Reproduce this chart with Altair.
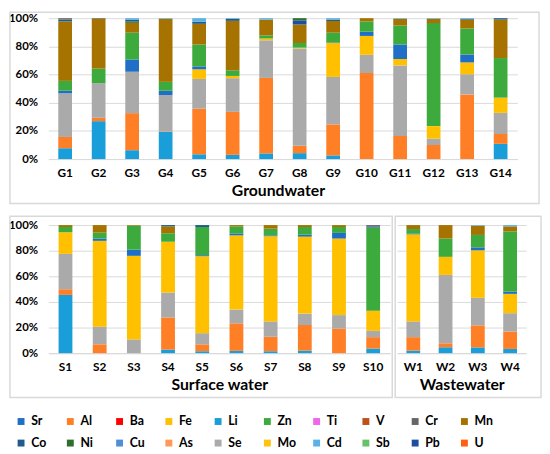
import altair as alt
import pandas as pd

ground = ["G1", "G2", "G3", "G4", "G5", "G6", "G7", "G8", "G9", "G10", "G11", "G12", "G13", "G14"]
surface = ["S1", "S2", "S3", "S4", "S5", "S6", "S7", "S8", "S9", "S10"]
waste = ["W1", "W2", "W3", "W4"]
samples = ground + surface + waste

legend_elements = ["Sr", "Al", "Ba", "Fe", "Li", "Zn", "Ti", "V", "Cr", "Mn",
                   "Co", "Ni", "Cu", "As", "Se", "Mo", "Cd", "Sb", "Pb", "U"]
legend_colors = ["#1F6FC6", "#FF7F27", "#FF0000", "#FFC000", "#1A9EDA", "#3DAA3D", "#EE66EE", "#C0501A", "#666666", "#A67300",
                 "#1F5C8C", "#2E6E2E", "#4F8FD9", "#FF9955", "#AAAAAA", "#FFC20E", "#5AB1E6", "#66C266", "#1C4FA0", "#FF6010"]

stack_order = ["Li", "Al", "Se", "Fe", "Sr", "Zn", "Mn", "Pb", "Ni", "Co", "Cd", "Cr"]

# percentage share, order: G1..G14, S1..S10, W1..W4
Li = [7.7, 26.9, 6.3, 19.4, 3.4, 3.0, 4.0, 4.2, 2.6, 0, 0, 0, 0, 10.8,
      45.5, 0, 0, 2.8, 1.5, 1.8, 1.5, 2.0, 0, 3.6,
      2.0, 4.6, 4.5, 3.3]
Al = [8.0, 2.4, 26.3, 0.3, 32.4, 30.5, 53.6, 5.2, 22.0, 61.1, 16.4, 10.0, 45.9, 7.0,
      4.4, 6.9, 0, 25.1, 5.4, 21.5, 11.3, 20.0, 19.2, 8.9,
      10.5, 3.1, 17.2, 13.6]
Se = [31.0, 24.6, 29.4, 25.7, 21.1, 23.9, 26.7, 69.1, 33.7, 12.9, 50.1, 4.5, 14.3, 15.0,
      27.6, 13.8, 10.7, 19.4, 8.7, 10.7, 12.0, 8.9, 10.5, 4.9,
      12.3, 53.4, 21.5, 14.3]
Fe = [0, 0, 0, 0, 6.8, 1.6, 1.3, 0.6, 24.1, 13.4, 4.5, 8.9, 8.4, 10.8,
      16.9, 67.0, 65.3, 39.7, 60.1, 58.0, 66.5, 60.1, 59.8, 15.8,
      68.0, 14.1, 37.1, 15.1]
Sr = [1.8, 0, 8.7, 3.1, 2.1, 0, 0, 0, 0.4, 3.0, 10.3, 0, 5.6, 0,
      0, 1.8, 4.8, 0, 0.8, 1.5, 0.7, 1.5, 4.4, 0,
      0.7, 0, 2.3, 1.8]
Zn = [7.0, 10.3, 19.0, 6.3, 15.5, 4.0, 2.2, 3.3, 6.9, 7.3, 13.5, 73.1, 18.5, 28.1,
      4.1, 4.6, 18.7, 6.6, 22.0, 5.5, 5.2, 6.0, 4.6, 64.8,
      3.4, 14.3, 9.7, 47.0]
Mn = [42.2, 35.3, 7.0, 44.7, 14.7, 35.1, 11.2, 13.1, 8.3, 2.3, 4.7, 3.0, 6.3, 27.3,
      1.5, 5.9, 0.5, 5.4, 0, 1.0, 2.8, 1.5, 1.5, 0,
      3.1, 10.5, 7.2, 3.9]
Pb = [0, 0, 0, 0, 0, 0, 0, 2.9, 0, 0, 0, 0, 0, 0,
      0, 0, 0, 0, 0, 0, 0, 0, 0, 0,
      0, 0, 0, 0]
Ni = [0, 0, 1.0, 0, 0, 0, 0, 1.6, 0, 0, 0, 0, 0, 0,
      0, 0, 0, 0, 0, 0, 0, 0, 0, 0,
      0, 0, 0, 0]
Co = [1.3, 0, 1.3, 0, 1.5, 1.4, 0, 0, 1.0, 0, 0, 0, 0.5, 1.0,
      0, 0, 0, 1.0, 1.5, 0, 0, 0, 0, 1.0,
      0, 0, 0, 0]
Cd = [0, 0, 1.0, 0.5, 2.5, 0.5, 1.0, 0, 1.0, 0, 0.5, 0.5, 0.5, 0,
      0, 0, 0, 0, 0, 0, 0, 0, 0, 0,
      0, 0, 0.5, 1.0]
Cr = [1.0, 0.5, 0, 0, 0, 0, 0, 0, 0, 0, 0, 0, 0, 0,
      0, 0, 0, 0, 0, 0, 0, 0, 0, 1.0,
      0, 0, 0, 0]

series = {"Li": Li, "Al": Al, "Se": Se, "Fe": Fe, "Sr": Sr, "Zn": Zn, "Mn": Mn,
          "Pb": Pb, "Ni": Ni, "Co": Co, "Cd": Cd, "Cr": Cr}

rows = []
for el in stack_order:
    for s, v in zip(samples, series[el]):
        if v > 0:
            rows.append({"sample": s, "element": el, "value": v, "rank": stack_order.index(el)})
df = pd.DataFrame(rows)

FONT = "Lato"
GRID = "#d9d9d9"

color = alt.Color(
    "element:N",
    scale=alt.Scale(domain=legend_elements, range=legend_colors),
    legend=alt.Legend(
        title=None, orient="none", direction="horizontal", legendX=-34, legendY=403, columns=10,
        symbolType="square", symbolSize=49, symbolStrokeWidth=0,
        labelFont=FONT, labelFontWeight="bold", labelFontSize=12.5, labelColor="#000000",
        labelOffset=4, gridAlign="all", columnPadding=14, rowPadding=9,
    ),
)


def panel(cats, title, w, h, show_y, box, title_dx=0, pad_inner=0.59):
    data = df[df["sample"].isin(cats)]
    if show_y:
        yaxis = alt.Axis(values=[0, 20, 40, 60, 80, 100], labelExpr="datum.value + '%'",
                         title=None, ticks=False, domain=False, gridColor=GRID,
                         labelFont=FONT, labelFontWeight="bold", labelFontSize=11.5,
                         labelColor="#000000", labelPadding=11)
    else:
        yaxis = alt.Axis(values=[0, 20, 40, 60, 80, 100], labels=False, title=None,
                         ticks=False, domain=False, gridColor=GRID)
    bars = alt.Chart(data).mark_bar().encode(
        x=alt.X("sample:N", sort=cats,
                scale=alt.Scale(paddingInner=pad_inner, paddingOuter=pad_inner / 2),
                axis=alt.Axis(title=title, labelAngle=0, ticks=False, domainColor=GRID,
                              labelFont=FONT, labelFontWeight="bold", labelFontSize=12,
                              labelColor="#000000", labelPadding=9,
                              titleFont=FONT, titleFontWeight="bold", titleFontSize=16,
                              titleColor="#000000", titlePadding=4,
                              titleX=w / 2 + title_dx)),
        y=alt.Y("sum(value):Q", scale=alt.Scale(domain=[0, 100]), axis=yaxis),
        color=color,
        order=alt.Order("rank:Q", sort="ascending"),
    )
    l, r, t, b = box
    frame = alt.Chart(pd.DataFrame({"a": [0]})).mark_rect(
        filled=False, stroke=GRID, strokeWidth=1.5
    ).encode(
        x=alt.value(-l), x2=alt.value(w + r), y=alt.value(-t), y2=alt.value(h + b)
    )
    return alt.layer(frame, bars).properties(width=w, height=h)


top = panel(ground, "Groundwater", 476, 143, True, (39, 22, 6, 45), title_dx=-5, pad_inner=0.59)
bl = panel(surface, "Surface water", 347, 130, True, (39, 2, 9, 45), pad_inner=0.596)
br = panel(waste, "Wastewater", 131, 130, False, (2, 15, 9, 45), pad_inner=0.573)

bottom = alt.hconcat(bl, br, spacing=1)
chart = alt.vconcat(top, bottom, spacing=11).properties(padding=0).configure_view(stroke=None)

chart.save("out.html", embed_options={"renderer": "svg", "actions": False})
